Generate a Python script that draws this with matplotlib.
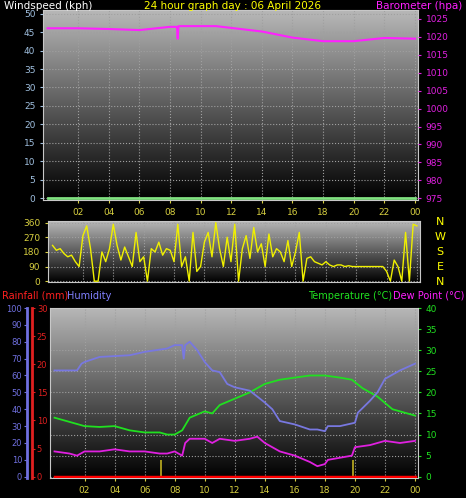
import numpy as np
import matplotlib
matplotlib.use("Agg")
import matplotlib.pyplot as plt
from matplotlib.colors import LinearSegmentedColormap

W, H = 466, 498

# ---- data ----
baro_t = [0, 2, 4, 6, 8, 8.45, 8.5, 8.55, 9, 11, 12, 14, 16, 18, 20, 22, 24]
baro_v = [1022.4, 1022.4, 1022.2, 1021.9, 1022.8, 1022.8, 1019.5, 1023.0, 1023.0, 1023.0, 1022.5, 1021.5, 1019.8, 1018.8, 1018.8, 1019.7, 1019.5]
wind_t = [0, 24]
wind_v = [0, 0]

dir_v = [220,190,200,170, 150,160,120,90, 280,340,200,0, 0,180,120,200,
         350,220,130,210, 150,90,300,120, 150,0,200,180, 240,160,200,190,
         120,350,90,150, 0,300,60,90, 240,300,150,360, 200,90,270,120,
         350,0,200,280, 140,330,180,230, 90,290,150,200, 180,120,250,90,
         180,300,0,140, 150,120,110,100, 120,100,90,100, 100,90,95,90,
         90,90,90,90, 90,90,90,90, 60,0,130,90, 0,300,0,350, 340]
dir_t = [i * 0.25 for i in range(len(dir_v))]

hum_t = [0,1.5,1.8,2,3,5,6,7.5,8,8.5,8.6,8.7,9,9.5,10,10.5,11,11.5,12,13,14,14.5,15,16,17,17.5,18,18.2,19,20,20.2,21,21.5,22,23,24]
hum_v = [63,63,67,68,71,72,74,76,78,78,70,78,80,75,68,63,62,55,53,51,44,40,33,31,28,28,27,30,30,32,38,45,50,58,63,67]
temp_t = [0,1,2,3,4,5,6,7,7.5,8,8.5,9,10,10.5,11,12,13,14,15,16,17,18,19,19.8,20.5,21.5,22.5,23,24]
temp_v = [14,13,12,11.8,12,11,10.5,10.5,10,10,11,14,15.5,15,17,18.5,20,22,23,23.5,24,24,23.5,23,21,19,16,15.5,14.5]
dew_t = [0,1,1.5,2,3,4,5,6,7,7.5,8,8.5,8.7,9,10,10.5,11,12,13,13.5,14,14.5,15,16,17,17.5,18,18.2,19,19.8,20,21,22,23,24]
dew_v = [6,5.5,5,6,6,6.5,6,6,5.5,5.5,6,5,8,9,9,8,9,8.5,9,9.5,8,7,6,5,3.5,2.5,3,4,4.5,5,7,7.5,8.5,8,8.5]
rain_t = [0, 24]
rain_v = [0, 0]
mark_t = [7.1, 19.9]
mark_h = [3, 3]

hours = list(range(2, 25, 2))
hour_labels = ["%02d" % (h % 24) for h in hours]

YEL = "#d8d040"
fig = plt.figure(figsize=(W/100, H/100), dpi=100, facecolor="black")

def ax_px(x0, y0, x1, y1):
    return fig.add_axes([x0/W, 1 - y1/H, (x1-x0)/W, (y1-y0)/H])

grad = np.linspace(0, 1, 256).reshape(-1, 1)
cmap = LinearSegmentedColormap.from_list("g", ["#b8b8b8", "#000000"])

def style(ax, xr=(-0.3, 24.2)):
    ax.set_facecolor("black")
    ax.imshow(grad, cmap=cmap, aspect="auto", extent=[0, 1, 0, 1],
              transform=ax.transAxes, zorder=0)
    ax.set_xlim(*xr)
    ax.set_xticks(hours)
    ax.grid(True, color="#a0a0a0", linestyle=":", linewidth=0.8, zorder=1)
    for s in ax.spines.values():
        s.set_color("#c8c8c8")
    ax.tick_params(colors=YEL, labelsize=6.5, length=2)

# ---- top panel ----
a1 = ax_px(43, 10, 418, 200)
style(a1)
a1.set_ylim(-0.5, 51)
a1.set_yticks(range(0, 51, 5))
a1.set_xticklabels(hour_labels)
a1.plot(wind_t, wind_v, color="#80e080", lw=2, zorder=3)
b1 = a1.twinx()
b1.set_ylim(974.5, 1027.5)
b1.set_yticks(range(975, 1026, 5))
b1.tick_params(colors="#e020e0", labelsize=6.5, length=2)
b1.plot(baro_t, baro_v, color="#ff20ff", lw=1.5, zorder=3)
for s in b1.spines.values():
    s.set_visible(False)
a1.tick_params(axis="y", colors="#a0c0e0")
fig.text(4/W, 1-6/H, "Windspeed (kph)", color="white", fontsize=7.5, va="center")
fig.text(233/W, 1-6/H, "24 hour graph day : 06 April 2026", color="#ffff00", fontsize=7.5, va="center", ha="center")
fig.text(462/W, 1-6/H, "Barometer (hpa)", color="#ff20ff", fontsize=7.5, va="center", ha="right")

# ---- middle panel ----
a2 = ax_px(48, 221, 420, 282)
style(a2)
a2.set_ylim(-5, 370)
a2.set_yticks([0, 90, 180, 270, 360])
a2.set_xticklabels([])
a2.tick_params(axis="x", length=0)
a2.plot(dir_t, dir_v, color="#f0f000", lw=1, zorder=3)
for i, l in enumerate("NWSEN"):
    fig.text(440/W, 1-(222 + i*15)/H, l, color="#ffff00", fontsize=8, ha="center", va="center")

# ---- bottom panel ----
a3 = ax_px(50, 308, 418, 478)
style(a3)
a3.set_ylim(-0.3, 40)
a3.set_xticklabels(hour_labels)
a3.plot(temp_t, temp_v, color="#20e020", lw=1.3, zorder=3)
a3.plot(dew_t, dew_v, color="#e020e0", lw=1.3, zorder=3)

hum = a3.twinx()
hum.set_ylim(-0.75, 100)
hum.yaxis.tick_left()
hum.spines["left"].set_position(("outward", 16.5))
hum.spines["left"].set_color("#7070e0")
hum.spines["left"].set_linewidth(2)
for k in ("right", "top", "bottom"):
    hum.spines[k].set_visible(False)
hum.set_yticks(range(0, 101, 10))
hum.tick_params(colors="#7070e0", labelsize=6, length=2, pad=1.5)
hum.plot(hum_t, hum_v, color="#7878e0", lw=1.3, zorder=3)

rn = a3.twinx()
rn.set_ylim(-0.225, 30)
rn.yaxis.tick_left()
rn.spines["left"].set_position(("outward", 13))
rn.spines["left"].set_color("#e02020")
rn.spines["left"].set_linewidth(2)
for k in ("right", "top", "bottom"):
    rn.spines[k].set_visible(False)
rn.set_yticks(range(0, 31, 5))
rn.tick_params(colors="#e02020", labelsize=6, length=2, direction="in", pad=-3.5)
for lbl in rn.get_yticklabels():
    lbl.set_ha("left")
rn.plot(rain_t, rain_v, color="#ff0000", lw=2.5, zorder=4)
rn.vlines(mark_t, 0, mark_h, color="#c0b020", lw=1.2, zorder=3)

a3.yaxis.tick_right()
a3.set_yticks(range(0, 41, 5))
a3.tick_params(axis="y", colors="#20e020", labelsize=6.5, length=2)

fig.text(2/W, 1-296/H, "Rainfall (mm)", color="#ff2020", fontsize=7, va="center")
fig.text(67/W, 1-296/H, "Humidity", color="#8080ff", fontsize=7, va="center")
fig.text(392/W, 1-296/H, "Temperature (°C)", color="#20e020", fontsize=7, va="center", ha="right")
fig.text(464/W, 1-296/H, "Dew Point (°C)", color="#ff20ff", fontsize=7, va="center", ha="right")

fig.savefig("out.png", dpi=100, facecolor="black")
